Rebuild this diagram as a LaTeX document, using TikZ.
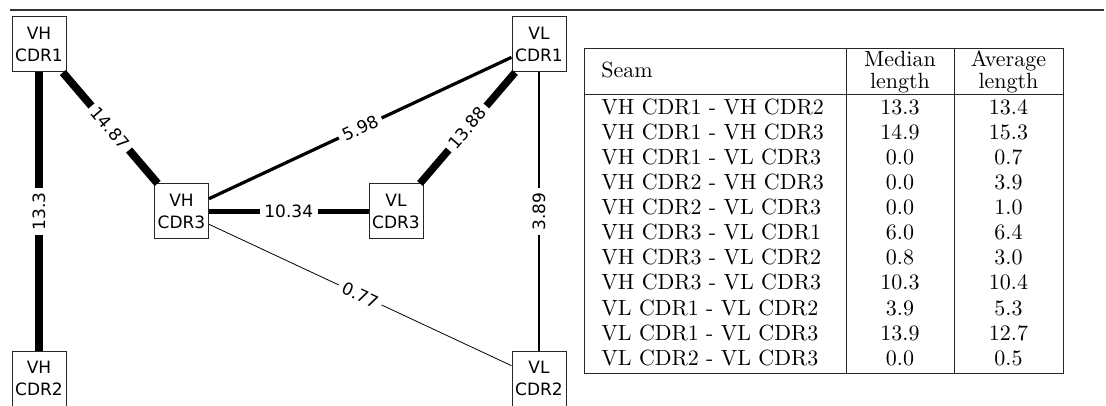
\documentclass[tikz,border=0pt]{standalone}
\usepackage{fontspec}
\newfontfamily\dejavu{DejaVu Sans}
\begin{document}
\begin{tikzpicture}[x=1pt,y=-1pt,
  cdr/.style={draw=black!85, line width=1pt, fill=white, minimum width=54pt, minimum height=55pt, inner sep=0pt, align=center, font=\dejavu\fontsize{17}{22.5}\selectfont},
  elab/.style={fill=white, inner sep=4.5pt, font=\dejavu\fontsize{17}{20}\selectfont},
  cellL/.style={scale=2.2, inner sep=0pt, anchor=base west},
  cellC/.style={scale=2.2, inner sep=0pt, anchor=base},
  head/.style={scale=2.2, inner sep=0pt, align=center, font=\fontsize{10}{10.2}\selectfont},
  rule/.style={draw=black!85, line width=1pt},
]
\useasboundingbox (0,0) rectangle (1106,406);
\draw[black!80, line width=1.3pt] (10,10) -- (1104,10);

% nodes
\node[cdr] (vh1) at (39,44.5) {VH\\CDR1};
\node[cdr] (vh2) at (39,378.5) {VH\\CDR2};
\node[cdr] (vh3) at (181.5,211.5) {VH\\CDR3};
\node[cdr] (vl1) at (539,44.5) {VL\\CDR1};
\node[cdr] (vl2) at (539,378.5) {VL\\CDR2};
\node[cdr] (vl3) at (396,211.5) {VL\\CDR3};

% edges
\draw[line width=7.05pt] (vh2) -- node[elab, sloped] {13.3} (vh1);
\draw[line width=7.9pt] (vh1) -- node[elab, sloped] {14.87} (vh3);
\draw[line width=5.5pt] (vh3) -- node[elab] {10.34} (vl3);
\draw[line width=3.2pt] (vh3) -- node[elab, sloped] {5.98} (vl1);
\draw[line width=7.4pt] (vl3) -- node[elab, sloped] {13.88} (vl1);
\draw[line width=2.1pt] (vl2) -- node[elab, sloped] {3.89} (vl1);
\draw[line width=0.8pt] (vh3) -- node[elab, sloped] {0.77} (vl2);

% table
\draw[rule] (584,49) rectangle (1063,373);
\draw[rule] (584,95) -- (1063,95);
\draw[rule] (846,49) -- (846,373);
\draw[rule] (954,49) -- (954,373);
\node[cellL] (hs) at (601,78) {Seam};
\node[head] (hm) at (900,72) {Median\\length};
\node[head] (ha) at (1008.5,72) {Average\\length};
\foreach \a/\b/\c [count=\i] in {
  VH CDR1 - VH CDR2/13.3/13.4,
  VH CDR1 - VH CDR3/14.9/15.3,
  VH CDR1 - VL CDR3/0.0/0.7,
  VH CDR2 - VH CDR3/0.0/3.9,
  VH CDR2 - VL CDR3/0.0/1.0,
  VH CDR3 - VL CDR1/6.0/6.4,
  VH CDR3 - VL CDR2/0.8/3.0,
  VH CDR3 - VL CDR3/10.3/10.4,
  VL CDR1 - VL CDR2/3.9/5.3,
  VL CDR1 - VL CDR3/13.9/12.7,
  VL CDR2 - VL CDR3/0.0/0.5}{
  \node[cellL] (s\i) at (601,{90+25*\i}) {\a};
  \node[cellC] (m\i) at (900,{90+25*\i}) {\b};
  \node[cellC] (v\i) at (1008.5,{90+25*\i}) {\c};
}
\end{tikzpicture}
\end{document}
